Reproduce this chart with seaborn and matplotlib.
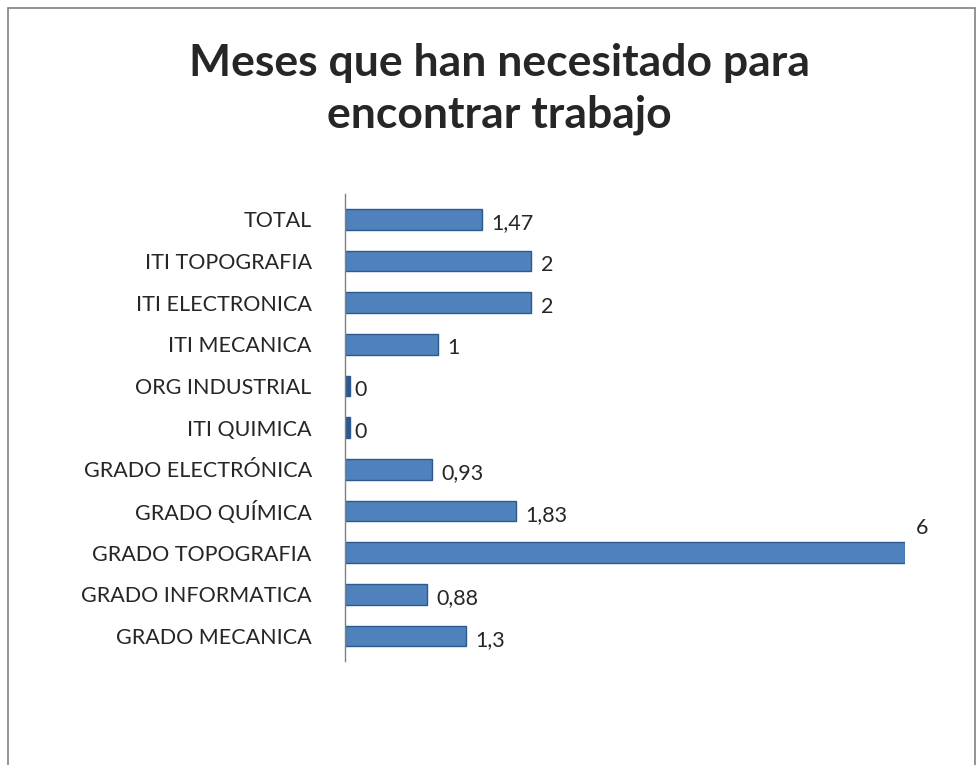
import matplotlib
matplotlib.use('Agg')
import matplotlib.pyplot as plt
import seaborn as sns
import pandas as pd
from matplotlib.patches import Rectangle

# datos
categorias = ['TOTAL', 'ITI TOPOGRAFIA', 'ITI ELECTRONICA', 'ITI MECANICA',
              'ORG INDUSTRIAL', 'ITI QUIMICA', 'GRADO ELECTRÓNICA', 'GRADO QUÍMICA',
              'GRADO TOPOGRAFIA', 'GRADO INFORMATICA', 'GRADO MECANICA']
meses = [1.47, 2, 2, 1, 0, 0, 0.93, 1.83, 6, 0.88, 1.3]
etiquetas = ['1,47', '2', '2', '1', '0', '0', '0,93', '1,83', '6', '0,88', '1,3']

df = pd.DataFrame({'categoria': categorias, 'meses': meses})

sns.set_style('white')
plt.rcParams['font.family'] = ['Lato', 'DejaVu Sans']

fig = plt.figure(figsize=(9.8, 7.65), dpi=100)
ax = fig.add_axes([0.352, 0.136, 0.571, 0.61])

sns.barplot(data=df, x='meses', y='categoria', orient='h', color='#4F81BD',
            edgecolor='#2C5A8F', linewidth=1, width=0.5, saturation=1, ax=ax)

# barras de valor cero: pequeño bloque oscuro
for i, v in enumerate(meses):
    if v == 0:
        ax.add_patch(Rectangle((0, i - 0.25), 0.05, 0.5, color='#2C5A8F'))

for i, (v, t) in enumerate(zip(meses, etiquetas)):
    if v == 6:
        ax.text(v + 0.12, i - 0.6, t, va='center', ha='left', fontsize=15.5)
    else:
        ax.text(v + 0.1, i + 0.1, t, va='center', ha='left', fontsize=15.5)

ax.set_xlim(0, 6)
ax.set_ylim(10.6, -0.6)
ax.set_xlabel('')
ax.set_ylabel('')
ax.set_xticks([])
ax.tick_params(axis='y', length=0, pad=24, labelsize=15.5)
for s in ['top', 'right', 'bottom']:
    ax.spines[s].set_visible(False)
ax.spines['left'].set_color('#808080')
ax.spines['left'].set_linewidth(1)

fig.text(0.51, 0.884, 'Meses que han necesitado para\nencontrar trabajo', ha='center',
         va='center', fontsize=32, fontweight='bold', linespacing=1.35)

# borde del grafico
fig.patches.append(Rectangle((0.008, -0.05), 0.987, 1.04, transform=fig.transFigure,
                             fill=False, edgecolor='#808080', linewidth=1.2))

fig.savefig('out.png', dpi=100)
